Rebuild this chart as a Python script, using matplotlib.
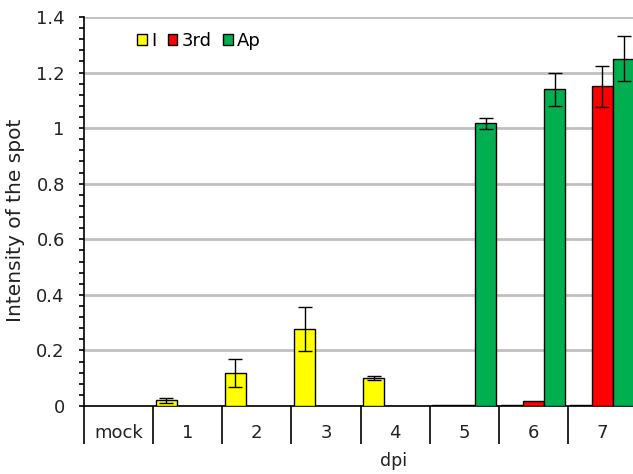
import numpy as np
import matplotlib.pyplot as plt
from matplotlib.ticker import MultipleLocator, FixedLocator

plt.rcParams['font.family'] = ['DejaVu Sans']

# data
categories = ['mock', '1', '2', '3', '4', '5', '6', '7']
series = ['I', '3rd', 'Ap']
vals_I = [0, 0.02, 0.12, 0.278, 0.10, 0.005, 0.005, 0.005]
err_I = [0, 0.01, 0.05, 0.08, 0.008, 0, 0, 0]
vals_3rd = [0, 0, 0, 0, 0, 0.005, 0.017, 1.15]
err_3rd = [0, 0, 0, 0, 0, 0, 0, 0.075]
vals_Ap = [0, 0, 0, 0, 0, 1.018, 1.14, 1.25]
err_Ap = [0, 0, 0, 0, 0, 0.02, 0.06, 0.08]
colors = ['#FFFF00', '#FF0000', '#00B050']

fig = plt.figure(figsize=(6.33, 4.74), dpi=100)
ax = fig.add_axes([84/633, 68/474, 553/633, 389/474])

x = np.arange(len(categories))
w = 0.31
offsets = [-w, 0, w]
for vals, errs, off, c, lab in zip([vals_I, vals_3rd, vals_Ap],
                                    [err_I, err_3rd, err_Ap],
                                    offsets, colors, series):
    v = np.array(vals)
    e = np.array(errs)
    mask = v > 0
    ax.bar(x[mask] + off, v[mask], w, color=c, edgecolor='black', linewidth=1,
           label=lab, zorder=3)
    em = e > 0
    ax.errorbar(x[em] + off, v[em], yerr=e[em], fmt='none', ecolor='black',
                elinewidth=1, capsize=5, capthick=1, zorder=4)

ax.set_xlim(-0.5, len(categories) - 0.5)
ax.set_ylim(0, 1.4)
ax.yaxis.set_major_locator(MultipleLocator(0.2))
ax.yaxis.set_minor_locator(MultipleLocator(0.04))
ax.yaxis.set_major_formatter(plt.FuncFormatter(lambda v, p: f'{v:g}'))
ax.grid(axis='y', color='#c0c0c0', linewidth=2, zorder=0)
ax.set_axisbelow(True)

ax.set_xticks(x)
ax.set_xticklabels(categories)
ax.xaxis.set_minor_locator(FixedLocator(np.arange(-0.5, len(categories), 1)))
ax.tick_params(axis='x', which='major', length=0, pad=13, labelsize=13,
               labelcolor='#222222')
ax.tick_params(axis='x', which='minor', length=27, width=1.2, direction='out')
ax.tick_params(axis='y', which='both', length=3.8, width=1.2, direction='out',
               labelsize=13, pad=10, labelcolor='#222222')

for s in ['top', 'right']:
    ax.spines[s].set_visible(False)
ax.spines['left'].set_linewidth(1.2)
ax.spines['bottom'].set_linewidth(1.2)

ax.set_xlabel('dpi', fontsize=12.5, color='#222222')
ax.xaxis.set_label_coords((394 - 84) / 553, -(461 - 406) / 389)
ax.xaxis.label.set_va('center')
ax.set_ylabel('Intensity of the spot', fontsize=14.5, color='#222222')
ax.yaxis.set_label_coords(-(84 - 16) / 553, (406 - 220) / 389)
ax.yaxis.label.set_va('center')

ax.legend(loc='upper left', bbox_to_anchor=(137/633, 1 - 32/474),
          bbox_transform=fig.transFigure, ncol=3, frameon=False,
          fontsize=13, handlelength=0.55, handleheight=0.55, handletextpad=0.25,
          columnspacing=0.6, borderpad=0, borderaxespad=0)

fig.savefig('out.png', dpi=100)
